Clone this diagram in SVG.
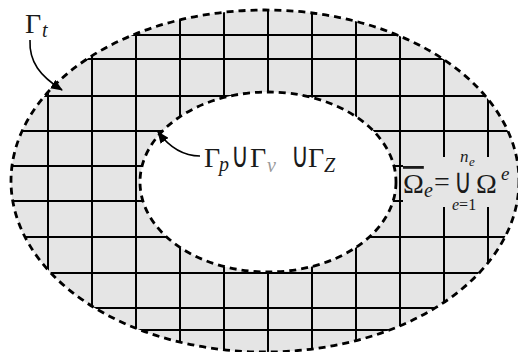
<svg xmlns="http://www.w3.org/2000/svg" width="518" height="352" viewBox="0 0 518 352">
<style>
.grid line{stroke:#000;stroke-width:2}
.bd{fill:none;stroke:#000;stroke-width:2.8;stroke-dasharray:7 5}
.arr{fill:none;stroke:#000;stroke-width:1.6}
text{font-family:"Liberation Serif","Times New Roman",serif;fill:#1a1a1a}
.it{font-style:italic}
.cup{font-family:"DejaVu Sans",sans-serif}
</style>
<defs>
<clipPath id="ann"><path clip-rule="evenodd" d="M11,181 a254,171 0 1,0 508,0 a254,171 0 1,0 -508,0 Z M140,182 a128,90 0 1,0 256,0 a128,90 0 1,0 -256,0 Z"/></clipPath>
<marker id="ah" viewBox="0 0 12 10" refX="11" refY="5" markerWidth="12" markerHeight="10" markerUnits="userSpaceOnUse" orient="auto"><path d="M0,0 L12,5 L0,10 Z" fill="#000"/></marker>
</defs>
<rect width="518" height="352" fill="#fff"/>
<g id="domain">
<path d="M11,181 a254,171 0 1,0 508,0 a254,171 0 1,0 -508,0 Z M140,182 a128,90 0 1,0 256,0 a128,90 0 1,0 -256,0 Z" fill="#e5e5e5" fill-rule="evenodd"/>
<g class="grid" clip-path="url(#ann)">
<line x1="0" y1="35" x2="518" y2="35"/>
<line x1="0" y1="59" x2="518" y2="59"/>
<line x1="0" y1="96" x2="518" y2="96"/>
<line x1="0" y1="131" x2="518" y2="131"/>
<line x1="0" y1="166" x2="518" y2="166"/>
<line x1="0" y1="201" x2="518" y2="201"/>
<line x1="0" y1="237" x2="518" y2="237"/>
<line x1="0" y1="273" x2="518" y2="273"/>
<line x1="0" y1="308" x2="518" y2="308"/>
<line x1="0" y1="330" x2="518" y2="330"/>
<line x1="48" y1="0" x2="48" y2="352"/>
<line x1="92" y1="0" x2="92" y2="352"/>
<line x1="136" y1="0" x2="136" y2="352"/>
<line x1="180" y1="0" x2="180" y2="352"/>
<line x1="224" y1="0" x2="224" y2="352"/>
<line x1="268" y1="0" x2="268" y2="352"/>
<line x1="312" y1="0" x2="312" y2="352"/>
<line x1="356" y1="0" x2="356" y2="352"/>
<line x1="400" y1="0" x2="400" y2="352"/>
<line x1="444" y1="0" x2="444" y2="352"/>
<line x1="488" y1="0" x2="488" y2="352"/>
</g>
<rect x="403" y="157" width="115" height="50" fill="#e5e5e5"/>
<ellipse class="bd" cx="265" cy="181" rx="254" ry="171"/>
<ellipse class="bd" cx="268" cy="182" rx="128" ry="90"/>
</g>
<g id="connectors">
<path class="arr" d="M30,40 C29,62 40,76 62,90" marker-end="url(#ah)"/>
<path class="arr" d="M200,156 C184,156 170,148 158,132" marker-end="url(#ah)"/>
</g>
<g id="label-gamma-t">
<text x="25" y="33" font-size="28">Γ</text>
<text class="it" x="42" y="37" font-size="20">t</text>
</g>
<g id="label-inner">
<text x="204" y="167" font-size="28">Γ</text>
<text class="it" x="219" y="171" font-size="20">p</text>
<text class="cup" transform="translate(231,167) scale(0.9,1.3)" font-size="27">∪</text>
<text x="250" y="167" font-size="28">Γ</text>
<text class="it" x="267" y="172" font-size="20" style="fill:#9a9a9a">v</text>
<text class="cup" transform="translate(291,167) scale(0.9,1.3)" font-size="27">∪</text>
<text x="308" y="167" font-size="28">Γ</text>
<text class="it" x="324" y="172" font-size="20">Z</text>
</g>
<g id="label-omega">
<text x="403" y="193" font-size="28" text-decoration="overline">Ω</text>
<text class="it" x="424" y="197" font-size="20">e</text>
<text x="434" y="191" font-size="28">=</text>
<text class="cup" transform="translate(454,193) scale(0.9,1.3)" font-size="27">∪</text>
<text class="it" x="460" y="162" font-size="17">n</text>
<text class="it" x="469" y="166" font-size="13">e</text>
<text x="452" y="210" font-size="16"><tspan class="it">e</tspan>=1</text>
<text x="476" y="193" font-size="28">Ω</text>
<text class="it" x="501" y="180" font-size="19">e</text>
</g>
</svg>
